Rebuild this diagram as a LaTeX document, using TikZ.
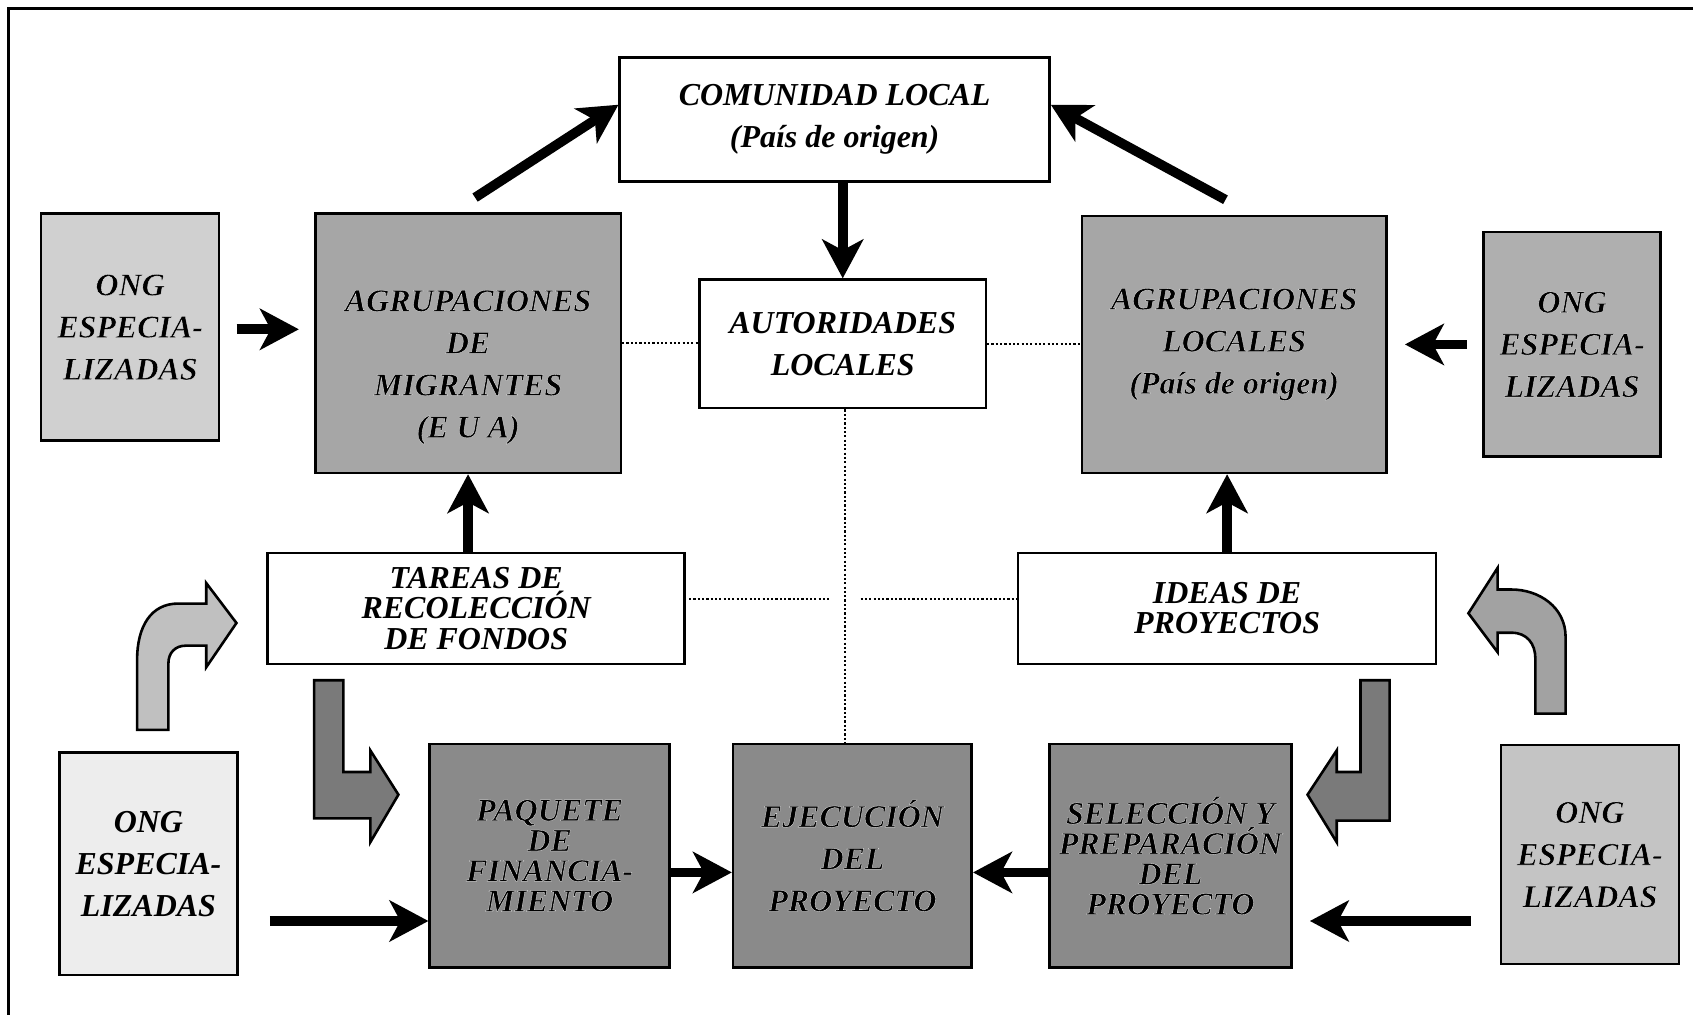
\documentclass[tikz,border=0pt]{standalone}
\usepackage{fontspec}
\setmainfont{Liberation Serif}
\usetikzlibrary{arrows.meta,calc}
\definecolor{gOngA}{HTML}{D0D0D0}
\definecolor{gOngB}{HTML}{AFAFAF}
\definecolor{gOngC}{HTML}{EDEDED}
\definecolor{gOngD}{HTML}{C4C4C4}
\definecolor{gMid}{HTML}{A6A6A6}
\definecolor{gDark}{HTML}{8A8A8A}
\definecolor{gArrL}{HTML}{C0C0C0}
\definecolor{gArrR}{HTML}{A2A2A2}
\definecolor{gArrD}{HTML}{7A7A7A}
\newcommand\hlotxt[1]{\special{pdf:literal direct 2 Tr 1 1 1 RG 0.12 w}#1\special{pdf:literal direct 0 Tr 0 0 0 RG}}
\begin{document}
\begin{tikzpicture}[x=0.5pt,y=-0.5pt,
  box/.style={draw=black, line width=1.2pt, align=center, inner sep=0pt,
    font=\fontsize{14.8}{19.5}\selectfont\bfseries\itshape},
  tight/.style={font=\fontsize{14.8}{14}\selectfont\bfseries\itshape},
  arr/.style={line width=4.5pt, -{Stealth[length=18pt,width=19pt,inset=5pt]}},
  dots/.style={densely dotted, line width=1pt},
  blk/.style={draw=black, line width=1.2pt, line join=miter}]
\useasboundingbox (0,0) rectangle (1568,940);
\fill[white] (0,0) rectangle (1568,940);
\draw[line width=1.2pt] (8,940) -- (8,8) -- (1568,8);

% nodes
\node[box, fill=white, minimum width=199pt, minimum height=57.5pt] (com) at (773,110.5) {COMUNIDAD LOCAL\\(País de origen)};
\node[box, fill=white, minimum width=132.5pt, minimum height=59.5pt] (aut) at (780.5,318.5) {AUTORIDADES\\LOCALES};
\node[box, fill=gOngA, minimum width=82.5pt, minimum height=105pt] (ong1) at (120.5,303) {\hlotxt{ONG\\ESPECIA-\\LIZADAS}};
\node[box, fill=gMid, minimum width=141.5pt, minimum height=120pt] (agm) at (433.5,318) {\hlotxt{\raisebox{-10.5pt}[\height][\depth]{\begin{tabular}{@{}c@{}}AGRUPACIONES\\DE\\MIGRANTES\\(E U A)\end{tabular}}}};
\node[box, fill=gMid, minimum width=141pt, minimum height=119pt] (agl) at (1143,319) {\hlotxt{AGRUPACIONES\\LOCALES\\(País de origen)}};
\node[box, fill=gOngB, minimum width=82pt, minimum height=104pt] (ong2) at (1456,319) {\hlotxt{ONG\\ESPECIA-\\LIZADAS}};
\node[box, tight, fill=white, minimum width=193pt, minimum height=51.5pt] (tar) at (441,563.5) {TAREAS DE\\RECOLECCIÓN\\DE FONDOS};
\node[box, tight, fill=white, minimum width=193.5pt, minimum height=51.5pt] (ide) at (1136.5,563.5) {IDEAS DE\\PROYECTOS};
\node[box, fill=gOngC, minimum width=82.5pt, minimum height=103pt] (ong3) at (137.5,800) {ONG\\ESPECIA-\\LIZADAS};
\node[box, tight, fill=gDark, minimum width=111pt, minimum height=103.5pt] (paq) at (509,792.5) {\hlotxt{PAQUETE\\DE\\FINANCIA-\\MIENTO}};
\node[box, fill=gDark, minimum width=110.5pt, minimum height=103.5pt] (eje) at (789.5,792.5) {\hlotxt{EJECUCIÓN\\DEL\\PROYECTO}};
\node[box, tight, fill=gDark, minimum width=112pt, minimum height=103.5pt] (sel) at (1084,792.5) {\hlotxt{SELECCIÓN Y\\PREPARACIÓN\\DEL\\PROYECTO}};
\node[box, fill=gOngD, minimum width=82.5pt, minimum height=101.5pt] (ong4) at (1472.5,791.5) {\hlotxt{ONG\\ESPECIA-\\LIZADAS}};

% free ends
\coordinate (p1) at (440,183);
\coordinate (p2) at (1135,185);
\coordinate (q3) at (250,853);
\coordinate (q4) at (1362,853);
\coordinate (d1) at (768,555);
\coordinate (d2) at (797,555);

% arrows
\draw[arr] (p1) -- ([yshift=6.75pt]com.west);
\draw[arr] (p2) -- ([yshift=6.75pt]com.east);
\draw[arr] (com.south -| aut.north) -- (aut.north);
\draw[arr] ([xshift=7.5pt,yshift=-1pt]ong1.east) -- ([xshift=-7pt,yshift=-1pt]ong1.east -| agm.west);
\draw[arr] ([xshift=-7pt]ong2.west) -- ([xshift=8pt]ong2.west -| agl.east);
\draw[arr] (tar.north -| agm.south) -- (agm.south);
\draw[arr] (ide.north) -- (ide.north |- agl.south);
\draw[arr] (q3) -- (q3 -| paq.west);
\draw[arr] ([yshift=-7.75pt]paq.east) -- ([yshift=-7.75pt]eje.west);
\draw[arr] ([yshift=-7.75pt]sel.west) -- ([yshift=-7.75pt]eje.east);
\draw[arr] (q4) -- ([xshift=8pt]q4 -| sel.east);

% dotted links
\draw[dots] (agm.east) -- (agm.east -| aut.west);
\draw[dots] (aut.east) -- (aut.east -| agl.west);
\draw[dots] ([xshift=1pt]aut.south) -- ([xshift=1pt]aut.south |- eje.north);
\draw[dots] ([xshift=1.5pt]tar.east |- d1) -- (d1);
\draw[dots] (d2) -- (d2 -| ide.west);

% block arrows
\path[blk, fill=gArrL] (127,676) -- (127,611) .. controls (127,580) and (140,559) .. (165,559)
  -- (191,559) -- (191,540) -- (219,577) -- (191,618) -- (191,598) -- (172,598)
  .. controls (162,598) and (156,605) .. (156,614) -- (156,676) -- cycle;
\path[blk, fill=gArrR] (1450,661) -- (1450,590) .. controls (1450,562) and (1425,546) .. (1400,546)
  -- (1387,546) -- (1387,526) -- (1360,568) -- (1387,604) -- (1387,586) -- (1400,586)
  .. controls (1414,586) and (1422,596) .. (1422,610) -- (1422,661) -- cycle;
\path[blk, fill=gArrD] (291,630) -- (318,630) -- (318,715) -- (343,715) -- (343,695) -- (369,736)
  -- (343,780) -- (343,758) -- (291,758) -- cycle;
\path[blk, fill=gArrD] (1287,630) -- (1260,630) -- (1260,715) -- (1238,715) -- (1238,695) -- (1211,736)
  -- (1238,780) -- (1238,760) -- (1287,760) -- cycle;
\end{tikzpicture}
\end{document}
